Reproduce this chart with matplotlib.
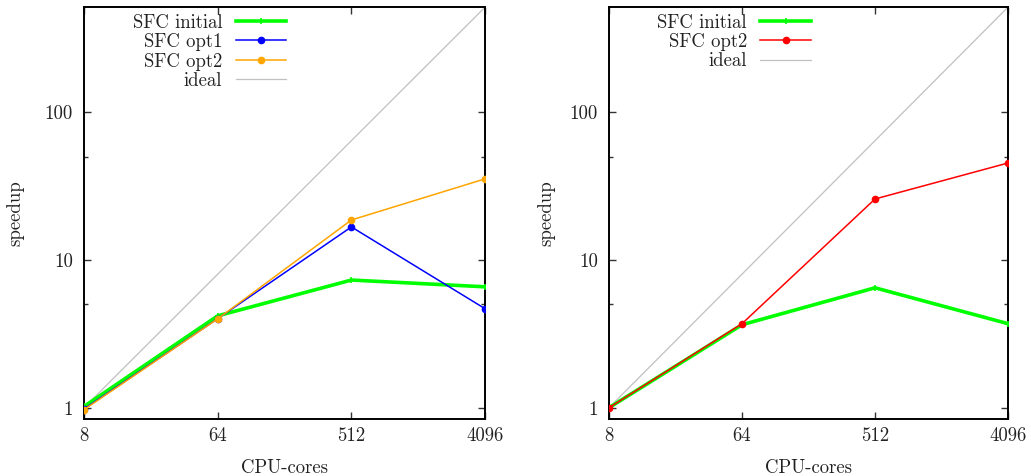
import matplotlib
matplotlib.use("Agg")
import matplotlib.pyplot as plt
from matplotlib.ticker import FixedLocator, FixedFormatter, NullFormatter

plt.rcParams['font.family'] = ['cmr10', 'DejaVu Serif']
plt.rcParams['axes.formatter.use_mathtext'] = True

# ---------------- #
#   Data           #
# ---------------- #
cores = [8, 64, 512, 4096]
tick_labels = ['8', '64', '512', '4096']

# left panel
left_initial = [1.02, 4.18, 7.3, 6.57]
left_opt1 = [0.98, 4.0, 16.7, 4.67]
left_opt2 = [0.97, 3.99, 18.6, 35.3]

# right panel
right_initial = [1.0, 3.64, 6.47, 3.7]
right_opt2 = [1.0, 3.7, 25.8, 45.2]

ideal = [c / 8 for c in cores]

green = '#00ff00'
blue = '#0000ff'
orange = '#ffa500'
red = '#ff0000'
grey = '#c0c0c0'

fig = plt.figure(figsize=(10.31, 4.76), dpi=100)
ax1 = fig.add_axes([0.0815, 0.12, 0.389, 0.865])
ax2 = fig.add_axes([0.5907, 0.12, 0.387, 0.865])


def style_axes(ax, ylab_x):
    ax.set_xscale('log')
    ax.set_yscale('log')
    ax.set_xlim(8, 4096)
    ax.set_ylim(0.84, 512)
    ax.xaxis.set_major_locator(FixedLocator(cores))
    ax.xaxis.set_major_formatter(FixedFormatter(tick_labels))
    ax.xaxis.set_minor_locator(FixedLocator([]))
    ax.yaxis.set_major_locator(FixedLocator([1, 10, 100]))
    ax.yaxis.set_major_formatter(FixedFormatter(['1', '10', '100']))
    ax.yaxis.set_minor_locator(FixedLocator([5, 50]))
    ax.yaxis.set_minor_formatter(NullFormatter())
    ax.tick_params(which='both', direction='in', top=True, right=True,
                   labelsize=13.5, colors='#333333', labelcolor='#222222')
    ax.tick_params(which='major', length=5, width=1)
    ax.tick_params(which='minor', length=3, width=1)
    ax.tick_params(axis='x', pad=6)
    ax.tick_params(axis='y', pad=8)
    for s in ax.spines.values():
        s.set_linewidth(1.4)
    ax.set_xlabel('CPU-cores', fontsize=13.5, color='#222222')
    ax.set_ylabel('speedup', fontsize=13.5, color='#222222')
    ax.xaxis.set_label_coords(0.5, -0.097)
    ax.yaxis.set_label_coords(ylab_x, 0.5)


def add_legend(ax, anchor_x):
    leg = ax.legend(loc='upper right', bbox_to_anchor=(anchor_x, 0.998),
                    frameon=False, markerfirst=False, fontsize=13.5,
                    handlelength=2.7, handletextpad=0.7, labelspacing=0.08,
                    borderpad=0.3, borderaxespad=0.0)
    for t in leg.get_texts():
        t.set_color('#222222')


# left panel
ax1.plot(cores, left_initial, color=green, lw=2.6, marker='+', ms=4, mew=1.2,
         label='SFC initial', zorder=3)
ax1.plot(cores, left_opt1, color=blue, lw=1.1, marker='o', ms=4.5,
         label='SFC opt1', zorder=4)
ax1.plot(cores, left_opt2, color=orange, lw=1.1, marker='o', ms=4.5,
         label='SFC opt2', zorder=5)
ax1.plot(cores, ideal, color=grey, lw=0.9, label='ideal', zorder=2)
style_axes(ax1, -0.148)
add_legend(ax1, 0.518)

# right panel
ax2.plot(cores, right_initial, color=green, lw=2.6, marker='+', ms=4, mew=1.2,
         label='SFC initial', zorder=3)
ax2.plot(cores, right_opt2, color=red, lw=1.1, marker='o', ms=4.5,
         label='SFC opt2', zorder=4)
ax2.plot(cores, ideal, color=grey, lw=0.9, label='ideal', zorder=2)
style_axes(ax2, -0.135)
add_legend(ax2, 0.52)

fig.savefig('out.png', dpi=100)
